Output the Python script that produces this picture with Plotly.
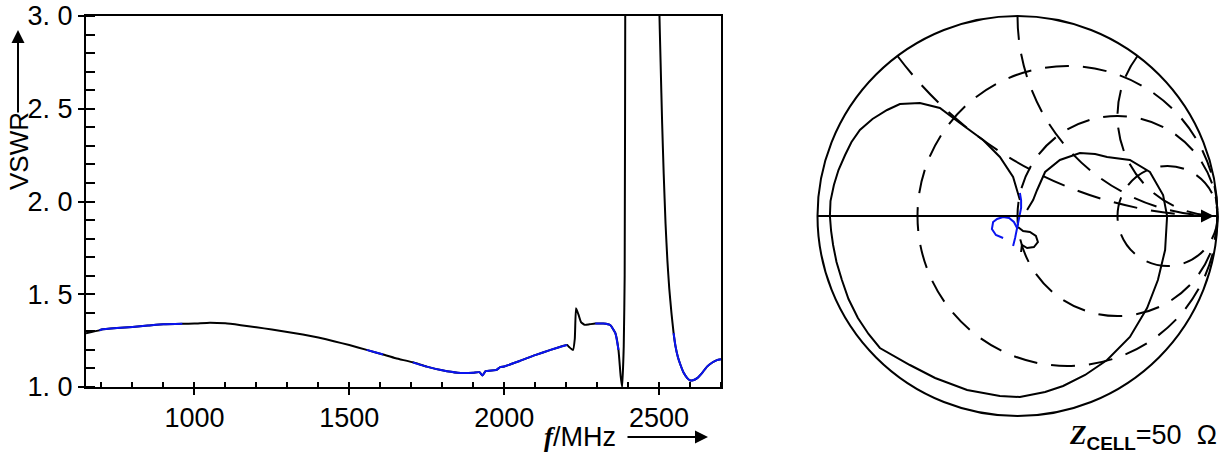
import numpy as np
import plotly.graph_objects as go

# ---------------- VSWR data (left panel) ----------------
freq_mhz = [650, 693, 700, 750, 800, 850, 900, 961, 1000, 1050, 1100, 1150, 1200, 1250,
            1300, 1350, 1400, 1450, 1500, 1556, 1609, 1650, 1705, 1750, 1800, 1850, 1900,
            1920, 1930, 1940, 1975, 1987, 2000, 2050, 2100, 2150, 2203, 2210, 2222, 2228,
            2232, 2240, 2248, 2260, 2275, 2294, 2320, 2343, 2359, 2369, 2376, 2381, 2386,
            2389, 2391, 2395, 2420, 2450, 2480, 2495, 2500, 2505, 2510, 2515, 2521, 2527,
            2533, 2540, 2547, 2553, 2561, 2569, 2580, 2591, 2601, 2612, 2623, 2640, 2655,
            2672, 2687, 2700]
vswr = [1.290, 1.305, 1.310, 1.318, 1.324, 1.331, 1.338, 1.341, 1.342, 1.347, 1.343, 1.333,
        1.322, 1.310, 1.297, 1.283, 1.267, 1.247, 1.226, 1.200, 1.175, 1.155, 1.133, 1.110,
        1.090, 1.077, 1.077, 1.080, 1.062, 1.085, 1.092, 1.107, 1.111, 1.140, 1.172, 1.200,
        1.226, 1.215, 1.199, 1.260, 1.425, 1.390, 1.350, 1.335, 1.338, 1.342, 1.342, 1.333,
        1.290, 1.200, 1.060, 1.000, 1.220, 1.600, 3.200, 8.0, 20.0, 25.0, 15.0, 4.5, 3.1,
        2.75, 2.42, 2.15, 1.88, 1.68, 1.53, 1.40, 1.29, 1.22, 1.16, 1.12, 1.075, 1.048,
        1.035, 1.038, 1.048, 1.078, 1.110, 1.132, 1.145, 1.150]
blue_ranges_mhz = [(693, 961), (1556, 1609), (1705, 2203), (2294, 2369), (2547, 2700)]

x_tick_vals = [1000, 1500, 2000, 2500]
x_tick_text = ["1000", "1500", "2000", "2500"]
y_tick_vals = [1.0, 1.5, 2.0, 2.5, 3.0]
y_tick_text = ["1. 0", "1. 5", "2. 0", "2. 5", "3. 0"]

# ---------------- Smith chart data (reflection coefficient) ----------------
gamma_loop_re = [0.012, -0.022, -0.088, -0.172, -0.288, -0.388, -0.488, -0.588, -0.652,
                 -0.725, -0.788, -0.830, -0.862, -0.895, -0.918, -0.935, -0.938, -0.932,
                 -0.922, -0.905, -0.878, -0.845, -0.798, -0.745, -0.688, -0.538,
                 -0.412, -0.252, -0.088, 0.012, 0.138, 0.228, 0.338, 0.448, 0.562, 0.648,
                 0.702, 0.738, 0.748, 0.728, 0.662, 0.562, 0.448, 0.388, 0.312, 0.212,
                 0.138, 0.098, 0.078, 0.048]
gamma_loop_im = [0.080, 0.195, 0.295, 0.380, 0.465, 0.540, 0.565, 0.560, 0.530, 0.485,
                 0.430, 0.370, 0.305, 0.230, 0.155, 0.075, 0.000, -0.075, -0.145, -0.230,
                 -0.320, -0.415, -0.510, -0.590, -0.660, -0.745, -0.810,
                 -0.870, -0.900, -0.905, -0.880, -0.850, -0.795, -0.720, -0.605, -0.460,
                 -0.320, -0.170, 0.000, 0.105, 0.220, 0.280, 0.295, 0.310, 0.315, 0.280,
                 0.220, 0.130, 0.080, 0.030]
gamma_small_re = [0.002, 0.028, 0.062, 0.092, 0.102, 0.082, 0.048, 0.022, 0.018]
gamma_small_im = [-0.055, -0.075, -0.080, -0.100, -0.130, -0.155, -0.160, -0.145, -0.180]
gamma_blue_c_re = [-0.072, -0.108, -0.128, -0.122, -0.102, -0.072, -0.042, -0.018, -0.002]
gamma_blue_c_im = [-0.110, -0.095, -0.065, -0.030, -0.015, -0.005, -0.010, -0.030, -0.060]
gamma_blue_v_re = [-0.022, -0.012, -0.002, 0.008, 0.018, 0.018, 0.012]
gamma_blue_v_im = [-0.150, -0.110, -0.060, -0.010, 0.040, 0.080, 0.115]

smith_r_circles = [1 / 3, 1, 3]
smith_x_arcs = [0.5, 1, 2]

W, H = 1227, 459
BLUE = "#0a14f0"


def px(x):
    return x / W


def py(y):
    return (H - y) / H


def to_z(re, im):
    g = np.array(re) + 1j * np.array(im)
    z = (1 + g) / (1 - g)
    return z.real, z.imag


fig = go.Figure()

f_arr = np.array(freq_mhz, dtype=float)
v_arr = np.array(vswr, dtype=float)
fig.add_trace(go.Scatter(x=f_arr, y=v_arr, mode="lines",
                         line=dict(color="black", width=2, shape="spline", smoothing=0.4),
                         showlegend=False))
for lo, hi in blue_ranges_mhz:
    m = (f_arr >= lo) & (f_arr <= hi)
    fig.add_trace(go.Scatter(x=f_arr[m], y=v_arr[m], mode="lines",
                             line=dict(color=BLUE, width=2, shape="spline", smoothing=0.4),
                             showlegend=False))

for re, im, col in [(gamma_loop_re, gamma_loop_im, "black"),
                    (gamma_small_re, gamma_small_im, "black"),
                    (gamma_blue_c_re, gamma_blue_c_im, BLUE),
                    (gamma_blue_v_re, gamma_blue_v_im, BLUE)]:
    zr, zi = to_z(re, im)
    fig.add_trace(go.Scattersmith(real=zr, imag=zi, mode="lines",
                                  line=dict(color=col, width=2), showlegend=False))

tickfont = dict(family="Liberation Sans", size=27, color="black")
xdom = [px(86), px(721)]
ydom = [py(387), py(16)]

fig.update_layout(
    template="none",
    width=W, height=H, margin=dict(l=0, r=0, t=0, b=0, pad=0),
    paper_bgcolor="white", plot_bgcolor="white", showlegend=False,
    xaxis=dict(domain=xdom, range=[650, 2700], showgrid=False, zeroline=False,
               automargin=False,
               showline=True, linecolor="black", linewidth=2, mirror=True,
               tickmode="array", tickvals=x_tick_vals, ticktext=x_tick_text,
               ticks="outside", ticklen=6, tickwidth=2, tickcolor="black",
               tickfont=tickfont,
               minor=dict(ticks="inside", ticklen=5, tickwidth=2, dtick=100, tick0=0,
                          tickcolor="black", showgrid=False)),
    yaxis=dict(domain=ydom, range=[1, 3], showgrid=False, zeroline=False,
               automargin=False,
               showline=True, linecolor="black", linewidth=2, mirror=True,
               tickmode="array", tickvals=y_tick_vals, ticktext=y_tick_text,
               ticks="outside", ticklen=6, tickwidth=2, tickcolor="black",
               tickfont=tickfont,
               minor=dict(ticks="inside", ticklen=9, tickwidth=2, dtick=0.1, tick0=1,
                          tickcolor="black", showgrid=False)),
    xaxis2=dict(domain=xdom, range=[650, 2700], overlaying="x", anchor="y",
                automargin=False,
                showgrid=False, zeroline=False, showline=False,
                tickmode="array", tickvals=x_tick_vals, ticks="inside", ticklen=6,
                tickwidth=2, tickcolor="black", showticklabels=False),
    yaxis2=dict(domain=ydom, range=[1, 3], overlaying="y", anchor="x",
                automargin=False,
                showgrid=False, zeroline=False, showline=False,
                tickmode="array", tickvals=y_tick_vals, ticks="inside", ticklen=9,
                tickwidth=2, tickcolor="black", showticklabels=False),
    smith=dict(
        domain=dict(x=[px(817.5), px(1217.5)], y=[py(416), py(16)]),
        bgcolor="white",
        realaxis=dict(tickvals=smith_r_circles, showticklabels=False, ticks="",
                      showgrid=True, gridcolor="black", gridwidth=2,
                      griddash="24px,14px", showline=True, linecolor="black",
                      linewidth=2),
        imaginaryaxis=dict(tickvals=smith_x_arcs, showticklabels=False, ticks="",
                           showgrid=True, gridcolor="black", gridwidth=2,
                           griddash="24px,14px", showline=True, linecolor="black",
                           linewidth=2),
    ),
)

ann = []
# y title with arrow
ann.append(dict(text="VSWR", x=px(19), y=py(151), xref="paper", yref="paper",
                xanchor="center", yanchor="middle",
                showarrow=False, textangle=-90,
                font=dict(family="Liberation Sans", size=26, color="black")))
ann.append(dict(text="", x=px(18), y=py(30), xref="paper", yref="paper",
                showarrow=True, ax=0, ay=84, arrowhead=2, arrowsize=1.3,
                arrowwidth=2, arrowcolor="black"))
# x title with arrow
ann.append(dict(text="<span style=\"font-family:'Liberation Serif'\"><b><i>f</i></b></span>/MHz",
                x=px(618), y=py(437), xref="paper", yref="paper",
                xanchor="right", yanchor="middle",
                showarrow=False,
                font=dict(family="Liberation Sans", size=27, color="black")))
ann.append(dict(text="", x=px(708), y=py(437), xref="paper", yref="paper",
                showarrow=True, ax=-82, ay=0, arrowhead=2, arrowsize=1.3,
                arrowwidth=2, arrowcolor="black"))
# smith real axis arrow
ann.append(dict(text="", x=px(1214), y=py(216), xref="paper", yref="paper",
                showarrow=True, ax=-40, ay=0, arrowhead=2, arrowsize=1.3,
                arrowwidth=2, arrowcolor="black"))
# Z_CELL label
ann.append(dict(text="<span style=\"font-family:'Liberation Serif'\"><b><i>Z</i></b></span>"
                     "<sub><b>CELL</b></sub>=50  Ω",
                x=px(1219), y=py(437), xref="paper", yref="paper",
                xanchor="right", yanchor="middle",
                showarrow=False,
                font=dict(family="Liberation Sans", size=27, color="black")))
fig.update_layout(annotations=ann)

fig.write_html("out.html")
